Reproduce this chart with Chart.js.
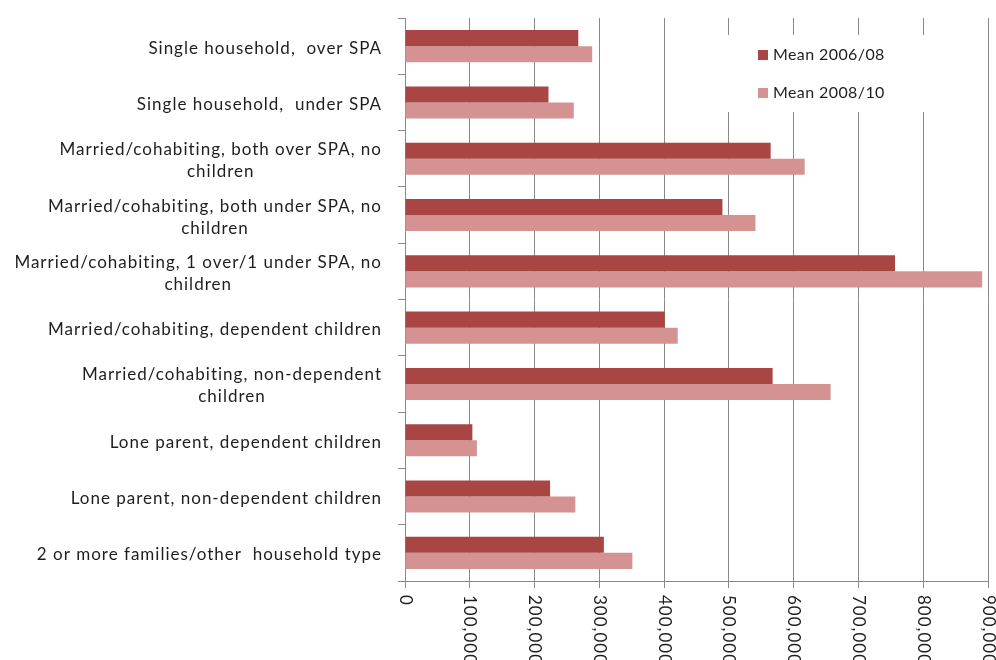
<!DOCTYPE html>
<html>
<head>
<meta charset="utf-8">
<script src="https://cdn.jsdelivr.net/npm/chart.js@4.4.0/dist/chart.umd.min.js"></script>
<style>
  html, body { margin: 0; padding: 0; background: #fff; }
  #wrap { width: 996px; height: 660px; }
</style>
</head>
<body>
<div id="wrap"><canvas id="chart" width="996" height="660"></canvas></div>
<script>
// household types, top to bottom; nested arrays are wrapped labels
const householdTypes = [
  'Single household,  over SPA',
  'Single household,  under SPA',
  ['Married/cohabiting, both over SPA, no', 'children'],
  ['Married/cohabiting, both under SPA, no', 'children'],
  ['Married/cohabiting, 1 over/1 under SPA, no', 'children'],
  'Married/cohabiting, dependent children',
  ['Married/cohabiting, non-dependent', 'children'],
  'Lone parent, dependent children',
  'Lone parent, non-dependent children',
  '2 or more families/other  household type'
];
const mean2006_08 = [267500, 221500, 564500, 490000, 756500, 401000, 567500, 104000, 224000, 307000];
const mean2008_10 = [289000, 260500, 617000, 541000, 891000, 421000, 657000, 111000, 263000, 351000];
const seriesNames = ['Mean 2006/08', 'Mean 2008/10'];
const seriesColors = ['#a94644', '#d49392'];
const xMax = 900000;
const xStep = 100000;

const textColor = '#1e1e1e';
const gridColor = '#898989';
const labelFont = '17px Lato';
const labelSpacing = '1px';

// y labels: block right-aligned to the axis, wrapped lines centred within the block
const yLabelsPlugin = {
  id: 'yLabels',
  afterDraw(chart) {
    const ctx = chart.ctx;
    const yScale = chart.scales.y;
    const right = yScale.right - 23;
    const lineHeight = 22;
    ctx.save();
    ctx.font = labelFont;
    ctx.letterSpacing = labelSpacing;
    ctx.fillStyle = textColor;
    ctx.textAlign = 'center';
    ctx.textBaseline = 'middle';
    householdTypes.forEach((label, i) => {
      const lines = Array.isArray(label) ? label : [label];
      const blockWidth = Math.max(...lines.map(l => ctx.measureText(l).width));
      const cx = right - blockWidth / 2;
      const cy = yScale.getPixelForValue(i) + 2;
      lines.forEach((line, k) => {
        ctx.fillText(line, cx, cy + (k - (lines.length - 1) / 2) * lineHeight);
      });
    });
    ctx.restore();
  }
};

// x tick labels turned a quarter clockwise, hanging below the tick marks
const xLabelsPlugin = {
  id: 'xLabels',
  afterDraw(chart) {
    const ctx = chart.ctx;
    const xScale = chart.scales.x;
    ctx.save();
    ctx.font = labelFont;
    ctx.letterSpacing = labelSpacing;
    ctx.fillStyle = textColor;
    ctx.textAlign = 'left';
    ctx.textBaseline = 'middle';
    xScale.ticks.forEach(tick => {
      const x = xScale.getPixelForValue(tick.value);
      ctx.save();
      ctx.translate(x, xScale.top + 14);
      ctx.rotate(Math.PI / 2);
      ctx.fillText(tick.value.toLocaleString('en-US'), 0, 0);
      ctx.restore();
    });
    ctx.restore();
  }
};

// legend box sitting over the grid in the top right of the plot
const legendPlugin = {
  id: 'insideLegend',
  afterDraw(chart) {
    const ctx = chart.ctx;
    const area = chart.chartArea;
    const boxLeft = area.right - 263;
    const boxTop = area.top + 17;
    ctx.save();
    ctx.fillStyle = '#fff';
    ctx.fillRect(boxLeft, boxTop, 240, 77);
    ctx.font = '16px Lato';
    ctx.letterSpacing = '0.4px';
    ctx.textBaseline = 'middle';
    chart.data.datasets.forEach((ds, i) => {
      const cy = boxTop + 20 + i * 38;
      ctx.fillStyle = ds.backgroundColor;
      ctx.fillRect(boxLeft + 33, cy - 5, 10, 10);
      ctx.fillStyle = textColor;
      ctx.fillText(ds.label, boxLeft + 48, cy);
    });
    ctx.restore();
  }
};

new Chart(document.getElementById('chart'), {
  type: 'bar',
  data: {
    labels: householdTypes,
    datasets: [
      { label: seriesNames[0], data: mean2006_08, backgroundColor: seriesColors[0] },
      { label: seriesNames[1], data: mean2008_10, backgroundColor: seriesColors[1] }
    ]
  },
  options: {
    indexAxis: 'y',
    responsive: false,
    animation: false,
    devicePixelRatio: 1,
    layout: { padding: { top: 18, right: 8, bottom: 72, left: 0 } },
    datasets: { bar: { categoryPercentage: 0.57, barPercentage: 1 } },
    plugins: {
      legend: { display: false },
      tooltip: { enabled: false }
    },
    scales: {
      x: {
        min: 0,
        max: xMax,
        ticks: { display: false, stepSize: xStep },
        grid: { color: gridColor, tickLength: 7 },
        border: { color: gridColor }
      },
      y: {
        ticks: { display: false },
        grid: { offset: true, drawOnChartArea: false, color: gridColor, tickLength: 7 },
        border: { color: gridColor },
        afterFit(scale) { scale.width = 405; }
      }
    }
  },
  plugins: [yLabelsPlugin, xLabelsPlugin, legendPlugin]
});
</script>
</body>
</html>
